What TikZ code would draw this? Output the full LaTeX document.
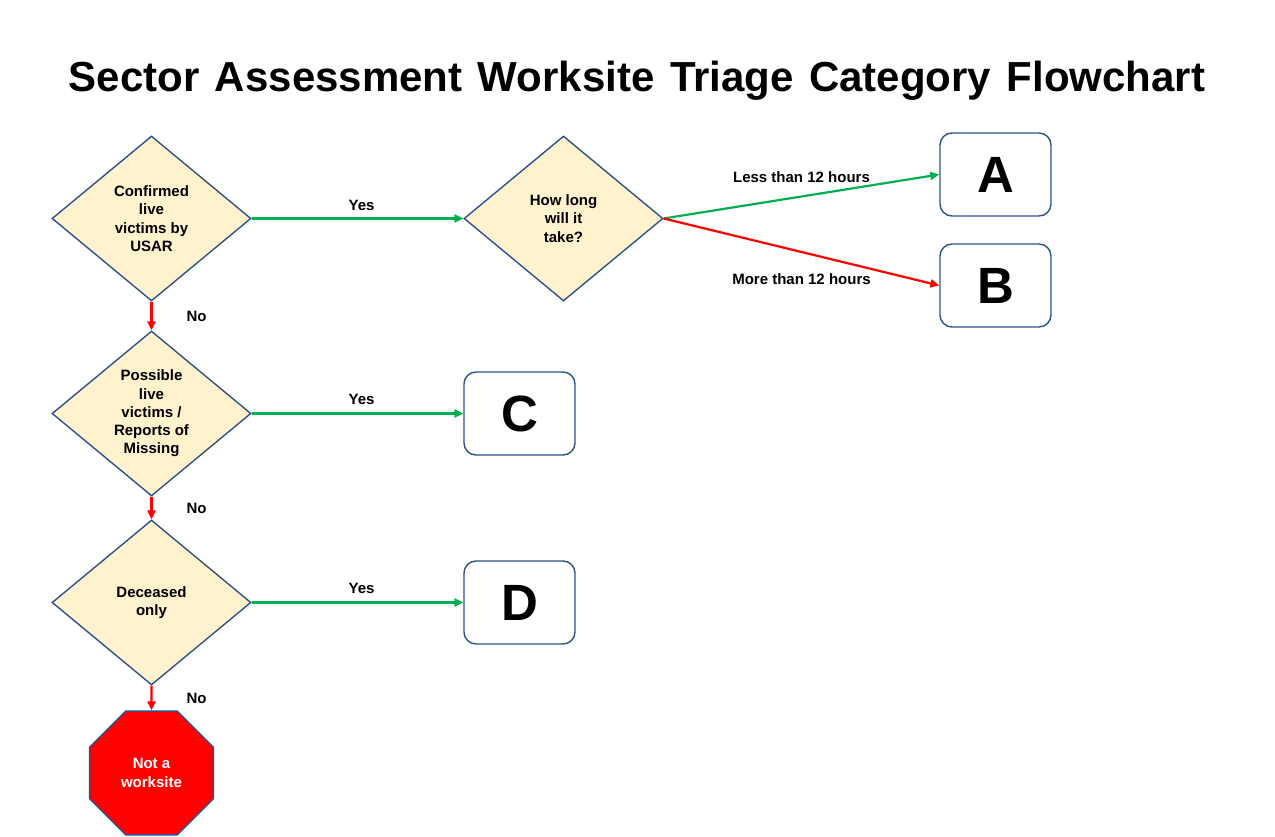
\documentclass[tikz,border=0pt]{standalone}
\usepackage{fontspec}
\setmainfont{Liberation Sans}
\usetikzlibrary{shapes.geometric,arrows.meta}
\definecolor{dfill}{HTML}{FFF2CC}
\definecolor{dborder}{HTML}{2F528F}
\definecolor{ygreen}{HTML}{00B050}
\definecolor{nred}{HTML}{FF0000}
\begin{document}
\begin{tikzpicture}[x=1pt,y=-1pt,
  decision/.style={diamond, draw=dborder, fill=dfill, line width=1.4pt,
    minimum width=199pt, minimum height=165pt, inner sep=0pt, aspect=1.2,
    align=center, font=\bfseries\fontsize{15}{18.3}\selectfont},
  catbox/.style={rectangle, rounded corners=12pt, draw=dborder, line width=1.4pt,
    minimum width=111pt, minimum height=83pt, inner sep=0pt,
    font=\bfseries\fontsize{51}{51}\selectfont},
  stopsign/.style={regular polygon, regular polygon sides=8, draw=dborder, fill=nred,
    line width=1.4pt, minimum size=134pt, inner sep=0pt, text=white, align=center,
    font=\bfseries\fontsize{15}{18.3}\selectfont},
  yesarrow/.style={draw=ygreen, line width=2.2pt, -{Triangle[length=9pt,width=8pt]}},
  noarrow/.style={draw=nred, line width=2.2pt, -{Triangle[length=9pt,width=8pt]}},
  lbl/.style={font=\bfseries\fontsize{15}{16}\selectfont, text=black, inner sep=0pt}]
\useasboundingbox (0,0) rectangle (1275,837);
\fill[white] (0,0) rectangle (1275,837);

\node[anchor=base, font=\bfseries\fontsize{42}{46}\selectfont] (title) at (637,92)
  {\spaceskip=15.5pt Sector Assessment Worksite Triage Category Flowchart};

\node[decision] (d1) at (151.5,218.5) {Confirmed\\live\\victims by\\USAR};
\node[decision] (d2) at (563.5,218.5) {How long\\will it\\take?};
\node[decision] (d3) at (151.5,413.5) {Possible\\live\\victims /\\Reports of\\Missing};
\node[decision] (d4) at (151.5,602.5) {Deceased\\only};

\node[catbox] (A) at (995.5,174.5) {A};
\node[catbox] (B) at (995.5,285.5) {B};
\node[catbox] (C) at (519.5,413.5) {C};
\node[catbox] (D) at (519.5,602.5) {D};

\node[stopsign] (stop) at (151.5,773) {Not a\\worksite};

\draw[yesarrow] (d1.east) -- (d2.west) node[lbl, midway, yshift=13pt, xshift=4pt] {Yes};
\draw[yesarrow] (d2.east) -- (A.west) node[lbl, midway, yshift=19pt] {Less than 12 hours};
\draw[noarrow] (d2.east) -- (B.west) node[lbl, midway, yshift=-27pt] {More than 12 hours};
\draw[yesarrow] (d3.east) -- (C.west) node[lbl, midway, yshift=14pt, xshift=4pt] {Yes};
\draw[yesarrow] (d4.east) -- (D.west) node[lbl, midway, yshift=14pt, xshift=4pt] {Yes};
\draw[noarrow] (d1.south) -- (d3.north) node[lbl, midway, xshift=45pt] {No};
\draw[noarrow] (d3.south) -- (d4.north) node[lbl, midway, xshift=45pt] {No};
\draw[noarrow] (d4.south) -- (stop.north) node[lbl, midway, xshift=45pt] {No};
\end{tikzpicture}
\end{document}
